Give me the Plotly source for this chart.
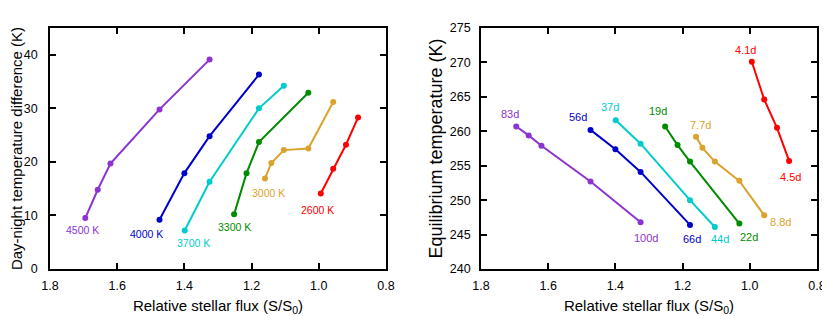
import plotly.graph_objects as go

# ---- data ----
series_names = ["4500 K", "4000 K", "3700 K", "3300 K", "3000 K", "2600 K"]
colors = ["#8c33d0", "#0000cc", "#00cccc", "#008c00", "#dba22c", "#ff0000"]

flux_4500 = [1.695, 1.658, 1.620, 1.474, 1.325]
dT_4500 = [9.5, 14.8, 19.7, 29.8, 39.1]
Teq_4500 = [260.7, 259.4, 257.9, 252.7, 246.8]

flux_4000 = [1.474, 1.400, 1.325, 1.178]
dT_4000 = [9.2, 17.9, 24.8, 36.3]
Teq_4000 = [260.2, 257.4, 254.1, 246.4]

flux_3700 = [1.399, 1.325, 1.178, 1.104]
dT_3700 = [7.2, 16.3, 30.0, 34.2]
Teq_3700 = [261.6, 258.2, 250.0, 246.1]

flux_3300 = [1.252, 1.215, 1.178, 1.031]
dT_3300 = [10.2, 17.9, 23.7, 32.9]
Teq_3300 = [260.7, 258.0, 255.6, 246.6]

flux_3000 = [1.160, 1.141, 1.104, 1.031, 0.957]
dT_3000 = [16.9, 19.8, 22.2, 22.5, 31.2]
Teq_3000 = [259.2, 257.6, 255.6, 252.8, 247.8]

flux_2600 = [0.994, 0.957, 0.919, 0.883]
dT_2600 = [14.1, 18.7, 23.2, 28.3]
Teq_2600 = [270.1, 264.6, 260.5, 255.7]

period_first = ["83d", "56d", "37d", "19d", "7.7d", "4.1d"]
period_last = ["100d", "66d", "44d", "22d", "8.8d", "4.5d"]

x_ticks = [1.8, 1.6, 1.4, 1.2, 1.0, 0.8]
x_ticklabels = ["1.8", "1.6", "1.4", "1.2", "1.0", "0.8"]
dT_ticks = [0, 10, 20, 30, 40]
Teq_ticks = [240, 245, 250, 255, 260, 265, 270, 275]

fluxes = [flux_4500, flux_4000, flux_3700, flux_3300, flux_3000, flux_2600]
dTs = [dT_4500, dT_4000, dT_3700, dT_3300, dT_3000, dT_2600]
Teqs = [Teq_4500, Teq_4000, Teq_3700, Teq_3300, Teq_3000, Teq_2600]

# ---- label offsets (pixels) ----
left_label_shift = [(-3, -12), (-13, -14), (9, -13), (0, -13), (3, -15), (-3, -17)]
first_label_shift = [(-6, 12), (-13, 13), (-6, 13), (-7, 15), (4, 12), (-6, 12)]
last_label_shift = [(5, -16), (2, -14), (5, -12), (10, -13), (16, -7), (1, -16)]

FONT = "Liberation Sans, Arial, sans-serif"

fig = go.Figure()
annotations = []
for i in range(6):
    fig.add_trace(go.Scatter(
        x=fluxes[i], y=dTs[i], mode="lines+markers",
        line=dict(color=colors[i], width=2),
        marker=dict(color=colors[i], size=6),
        xaxis="x", yaxis="y", showlegend=False, name=series_names[i]))
    fig.add_trace(go.Scatter(
        x=fluxes[i], y=Teqs[i], mode="lines+markers",
        line=dict(color=colors[i], width=2),
        marker=dict(color=colors[i], size=6),
        xaxis="x2", yaxis="y2", showlegend=False, name=series_names[i]))
    dx, dy = left_label_shift[i]
    annotations.append(dict(x=fluxes[i][0], y=dTs[i][0], xref="x", yref="y",
                            text=series_names[i], showarrow=False,
                            xshift=dx, yshift=dy,
                            font=dict(family=FONT, size=10.5, color=colors[i])))
    dx, dy = first_label_shift[i]
    annotations.append(dict(x=fluxes[i][0], y=Teqs[i][0], xref="x2", yref="y2",
                            text=period_first[i], showarrow=False,
                            xshift=dx, yshift=dy,
                            font=dict(family=FONT, size=11, color=colors[i])))
    dx, dy = last_label_shift[i]
    annotations.append(dict(x=fluxes[i][-1], y=Teqs[i][-1], xref="x2", yref="y2",
                            text=period_last[i], showarrow=False,
                            xshift=dx, yshift=dy,
                            font=dict(family=FONT, size=11, color=colors[i])))

axis_common = dict(showline=True, linecolor="black", linewidth=1.5, mirror="ticks",
                   ticks="inside", ticklen=6, tickwidth=1.5, tickcolor="black",
                   showgrid=False, zeroline=False, automargin=False)

xtitle = "Relative stellar flux (S/S<sub>0</sub>)"

fig.update_layout(
    width=822, height=308,
    margin=dict(l=42, r=13, t=20, b=47),
    paper_bgcolor="white", plot_bgcolor="white",
    font=dict(family=FONT, color="black"),
    xaxis=dict(domain=[0, 0.438], range=[1.8, 0.8], tickvals=x_ticks, ticktext=x_ticklabels,
               tickfont=dict(size=12.5), ticklabelstandoff=4,
               title=dict(text=xtitle, font=dict(size=15), standoff=9),
               anchor="y", **axis_common),
    yaxis=dict(domain=[0, 1], range=[0, 45], tickvals=dT_ticks,
               tickfont=dict(size=12.5), ticklabelstandoff=8,
               title=dict(text="Day-night temperature difference (K)", font=dict(size=15), standoff=11),
               anchor="x", **axis_common),
    xaxis2=dict(domain=[0.5619, 1.0], range=[1.8, 0.8], tickvals=x_ticks, ticktext=x_ticklabels,
                tickfont=dict(size=12.5), ticklabelstandoff=4,
                title=dict(text=xtitle, font=dict(size=15), standoff=9),
                anchor="y2", **axis_common),
    yaxis2=dict(domain=[0, 1], range=[240, 275], tickvals=Teq_ticks,
                tickfont=dict(size=12.5), ticklabelstandoff=6,
                title=dict(text="Equilibrium temperature (K)", font=dict(size=18), standoff=3),
                anchor="x2", **axis_common),
    annotations=annotations,
)

fig.write_html("out.html")
